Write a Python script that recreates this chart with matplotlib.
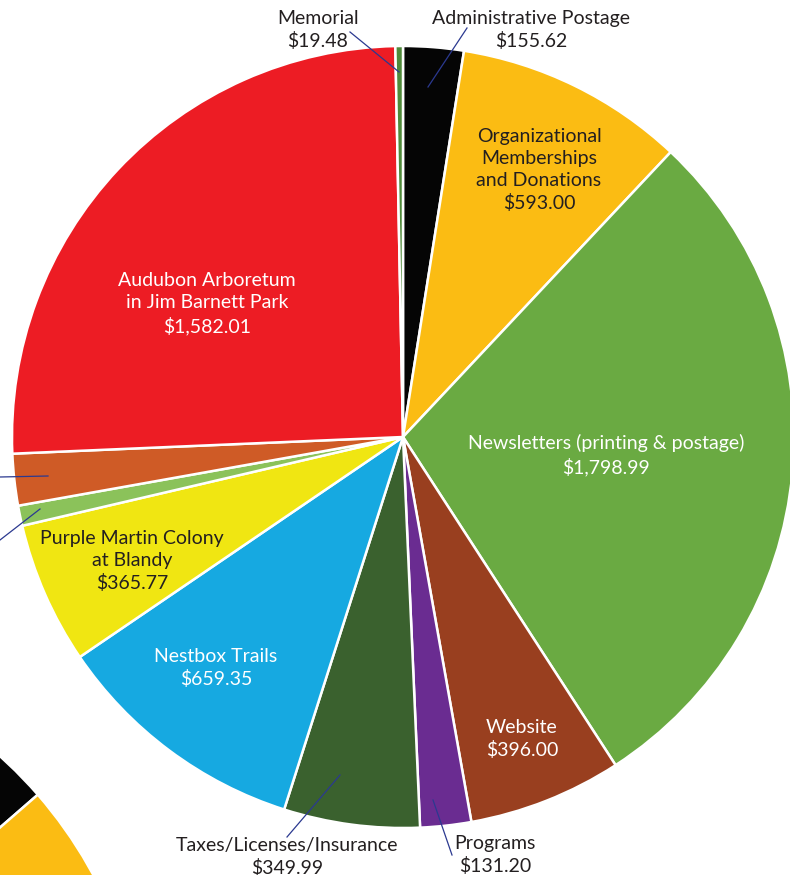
import numpy as np
import matplotlib
matplotlib.use("Agg")
import matplotlib.pyplot as plt

plt.rcParams['font.family'] = ['Lato', 'DejaVu Sans']

# slices, clockwise from 12 o'clock
names = ['Administrative Postage', 'Organizational\nMemberships\nand Donations',
         'Newsletters (printing & postage)', 'Website', 'Programs',
         'Taxes/Licenses/Insurance', 'Nestbox Trails', 'Purple Martin Colony\nat Blandy',
         'unlabeled 1', 'unlabeled 2', 'Audubon Arboretum\nin Jim Barnett Park', 'Memorial']
amounts = [155.62, 593.00, 1798.99, 396.00, 131.20, 349.99, 659.35, 365.77,
           52.0, 133.0, 1582.01, 19.48]
colors = ['#050505', '#fbbc13', '#6aaa42', '#993f1f', '#6a2c91', '#3a612e',
          '#16a9e1', '#f0e612', '#8bc25a', '#cf5b26', '#ed1c24', '#4f8a3a']

# second chart, only a corner of it shows in the bottom left
other_vals = [1, 1, 2]
other_cols = ['#050505', '#fbbc13', '#fbbc13']

W, H = 790, 875
fig = plt.figure(figsize=(W / 100, H / 100), dpi=100)
ax = fig.add_axes([0, 0, 1, 1])

def py(y):
    return H - y

ax.pie(amounts, colors=colors, startangle=90, counterclock=False,
       center=(403, py(437)), radius=391, frame=True,
       wedgeprops=dict(edgecolor='white', linewidth=1.8))

ax.pie(other_vals, colors=other_cols, startangle=131, counterclock=False,
       center=(-295, py(1084)), radius=441, frame=True,
       wedgeprops=dict(edgecolor='white', linewidth=1.8))

ax.set_xlim(0, W)
ax.set_ylim(0, H)
ax.set_aspect('auto')
ax.axis('off')

dark = '#231f20'
fs = 14

def money(v):
    return '${:,.2f}'.format(v)

# (index, x, y, colour)
spots = [(0, 531, 30, dark), (1, 539, 170, dark), (2, 606, 455, 'white'),
         (3, 522, 739, 'white'), (4, 495, 855, dark), (5, 287, 857, dark),
         (6, 216, 668, 'white'), (7, 132, 561, dark), (10, 207, 304, 'white'),
         (11, 318, 30, dark)]
for i, x, y, c in spots:
    ax.text(x, py(y), names[i] + '\n' + money(amounts[i]), ha='center', va='center',
            color=c, fontsize=fs, linespacing=1.36)

# leader lines
leaders = [((350, 32), (399, 72)), ((467, 28), (428, 87)),
           ((287, 837), (340, 775)), ((452, 855), (433, 800)),
           ((0, 477), (48, 476)), ((0, 540), (40, 509))]
for (x0, y0), (x1, y1) in leaders:
    ax.plot([x0, x1], [py(y0), py(y1)], color='#2b3990', linewidth=0.9)

fig.savefig('out.png', dpi=100)
